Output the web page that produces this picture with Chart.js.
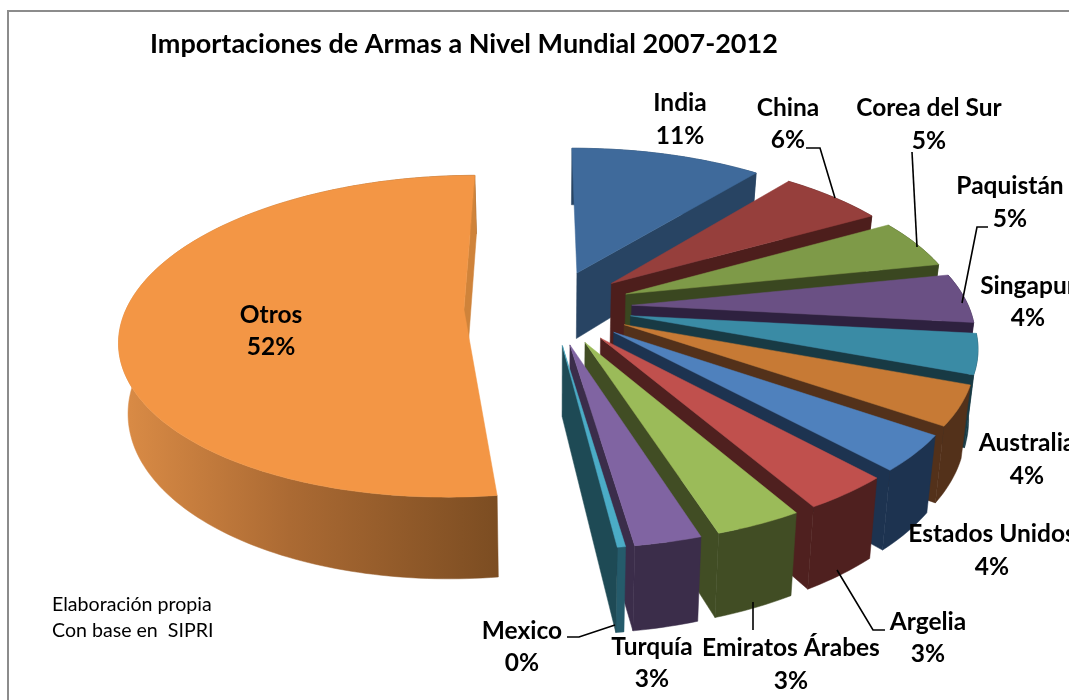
<!DOCTYPE html>
<html>
<head>
<meta charset="utf-8">
<title>Importaciones de Armas</title>
<script src="https://cdn.jsdelivr.net/npm/chart.js@4"></script>
<style>
    body { margin: 0; background: #fff; overflow: hidden; }
    canvas { display: block; }
</style>
</head>
<body>
<canvas id="myChart" width="1069" height="700"></canvas>
<script>
// data, clockwise from the top
var categories = ["India", "China", "Corea del Sur", "Paquistán", "Singapur", "Australia", "Estados Unidos", "Argelia", "Emiratos Árabes", "Turquía", "Mexico", "Otros"];
var shares = [11, 6, 5, 5, 4, 3.95, 3.57, 3.5, 3.45, 2.63, 0.32, 52.25];
var chartTitle = "Importaciones de Armas a Nivel Mundial 2007-2012";
var sourceNote = ["Elaboración propia", "Con base en  SIPRI"];

// slice styles
var topColors = ["#3F6A9B", "#963F3C", "#7E9A48", "#6A5084", "#3A8BA5", "#C77A35", "#4F81BD", "#C0504D", "#9BBB59", "#8064A2", "#4BACC6", "#F39645"];
var cutColors = ["#284463", "#4D1E1C", "#3A4720", "#2E213F", "#183A44", "#53311A", "#1D3350", "#4F201F", "#414D24", "#3B2D4A", "#1E4A55", "#CF833A"];
var rimColors = ["#284463", "#4D1E1C", "#3A4720", "#2E213F", "#183A44", "#53311A", "#1D3350", "#4F201F", "#414D24", "#3B2D4A", "#255B6B", null];
var explode = [81, 81, 81, 81, 81, 81, 81, 81, 81, 81, 81, 87];

// where each label sits: [x, y of name, y of percent]
var labelSpots = [[680, 103, 136], [788, 108, 140], [929, 108, 141], [1010, 186, 219], [1028, 286, 318], [1027, 443, 476],
    [992, 534, 567], [928, 622, 654], [791, 648, 681], [652, 647, 679], [522, 631, 663], [271, 315, 347]];

// leader lines for the labels that sit away from their slice
var leaders = [
    [[806, 148], [820, 148], [835, 198]],
    [[912, 152], [917, 247]],
    [[988, 227], [977, 227], [962, 303]],
    [[837, 570], [873, 630], [885, 630]],
    [[753, 602], [753, 630]],
    [[567, 637], [579, 637], [615, 625]]
];

// camera used to tilt the flat pie
var squash = 0.4618;
var tilt = 0.165;
var thickness = 68;
var shrink = 0.978;

function project(arc, px, py, down) {
    var w = 1 - tilt * py / arc.outerRadius;
    var x = px / w;
    var y = squash * py / w;
    if (down) {
        x = x * shrink;
        y = y + thickness / w;
    }
    return [arc.x + x, arc.y + y];
}

function planePoint(arc, offset, angle, r) {
    var mid = (arc.startAngle + arc.endAngle) / 2;
    return [offset * Math.cos(mid) + r * Math.cos(angle), offset * Math.sin(mid) + r * Math.sin(angle)];
}

function polygon(ctx, pts, fill) {
    ctx.beginPath();
    ctx.moveTo(pts[0][0], pts[0][1]);
    for (var i = 1; i < pts.length; i++) {
        ctx.lineTo(pts[i][0], pts[i][1]);
    }
    ctx.closePath();
    ctx.fillStyle = fill;
    ctx.fill();
    ctx.strokeStyle = fill;
    ctx.lineWidth = 0.5;
    ctx.stroke();
}

var pie3d = {
    id: "pie3d",
    beforeDatasetsDraw: function(chart) {
        var ctx = chart.ctx;
        var arcs = chart.getDatasetMeta(0).data;
        for (var i = 0; i < arcs.length; i++) {
            var arc = arcs[i];
            var offset = arc.options.offset;
            var R = arc.outerRadius;
            var steps = Math.max(2, Math.ceil((arc.endAngle - arc.startAngle) / 0.02));
            var rimTop = [];
            var rimLow = [];
            for (var s = 0; s <= steps; s++) {
                var a = arc.startAngle + (arc.endAngle - arc.startAngle) * s / steps;
                var p = planePoint(arc, offset, a, R);
                rimTop.push(project(arc, p[0], p[1], false));
                rimLow.push(project(arc, p[0], p[1], true));
            }
            var o = planePoint(arc, offset, 0, 0);
            var apexTop = project(arc, o[0], o[1], false);
            var apexLow = project(arc, o[0], o[1], true);

            // outer wall
            var rimFill = rimColors[i];
            if (!rimFill) {
                rimFill = ctx.createLinearGradient(120, 0, 497, 0);
                rimFill.addColorStop(0, "#DB8C46");
                rimFill.addColorStop(0.45, "#AB6A33");
                rimFill.addColorStop(1, "#7C4D22");
            }
            polygon(ctx, rimTop.concat(rimLow.slice().reverse()), rimFill);

            // cut face at the clockwise end of the slice
            polygon(ctx, [apexTop, rimTop[steps], rimLow[steps], apexLow], cutColors[i]);

            // top face
            polygon(ctx, [apexTop].concat(rimTop), arc.options.backgroundColor);
        }
        return false;
    }
};

var pieLabels = {
    id: "pieLabels",
    beforeDraw: function(chart) {
        var ctx = chart.ctx;
        ctx.save();
        ctx.fillStyle = "#fff";
        ctx.fillRect(0, 0, chart.width, chart.height);
        // chart frame, runs off the right and bottom of the picture
        ctx.strokeStyle = "#8C8C8C";
        ctx.lineWidth = 2;
        ctx.beginPath();
        ctx.moveTo(8, chart.height);
        ctx.lineTo(8, 11);
        ctx.lineTo(chart.width, 11);
        ctx.stroke();
        ctx.restore();
    },
    afterDraw: function(chart) {
        var ctx = chart.ctx;
        var total = shares.reduce(function(a, b) { return a + b; }, 0);
        ctx.save();

        ctx.strokeStyle = "#000";
        ctx.lineWidth = 1.6;
        leaders.forEach(function(line) {
            ctx.beginPath();
            ctx.moveTo(line[0][0], line[0][1]);
            for (var i = 1; i < line.length; i++) {
                ctx.lineTo(line[i][0], line[i][1]);
            }
            ctx.stroke();
        });

        ctx.fillStyle = "#000";
        ctx.textBaseline = "middle";
        ctx.textAlign = "left";
        ctx.font = "bold 27px Lato";
        ctx.fillText(chartTitle, 150, 44);

        ctx.font = "19.6px Lato";
        ctx.fillText(sourceNote[0], 52, 605);
        ctx.fillText(sourceNote[1], 52, 631);

        ctx.textAlign = "center";
        ctx.font = "bold 24.5px Lato";
        for (var i = 0; i < categories.length; i++) {
            var spot = labelSpots[i];
            ctx.fillText(categories[i], spot[0], spot[1]);
            ctx.fillText(Math.round(shares[i] / total * 100) + "%", spot[0], spot[2]);
        }
        ctx.restore();
    }
};

var pie_chart = new Chart(document.getElementById("myChart"), {
    type: "pie",
    data: {
        labels: categories,
        datasets: [{
            data: shares,
            backgroundColor: topColors,
            borderWidth: 0,
            offset: explode
        }]
    },
    options: {
        responsive: false,
        animation: false,
        radius: 337,
        rotation: -0.3,
        layout: { padding: { left: 33, bottom: 86 } },
        plugins: {
            legend: { display: false },
            title: { display: false },
            tooltip: { enabled: false }
        }
    },
    plugins: [pie3d, pieLabels]
});
</script>
</body>
</html>
